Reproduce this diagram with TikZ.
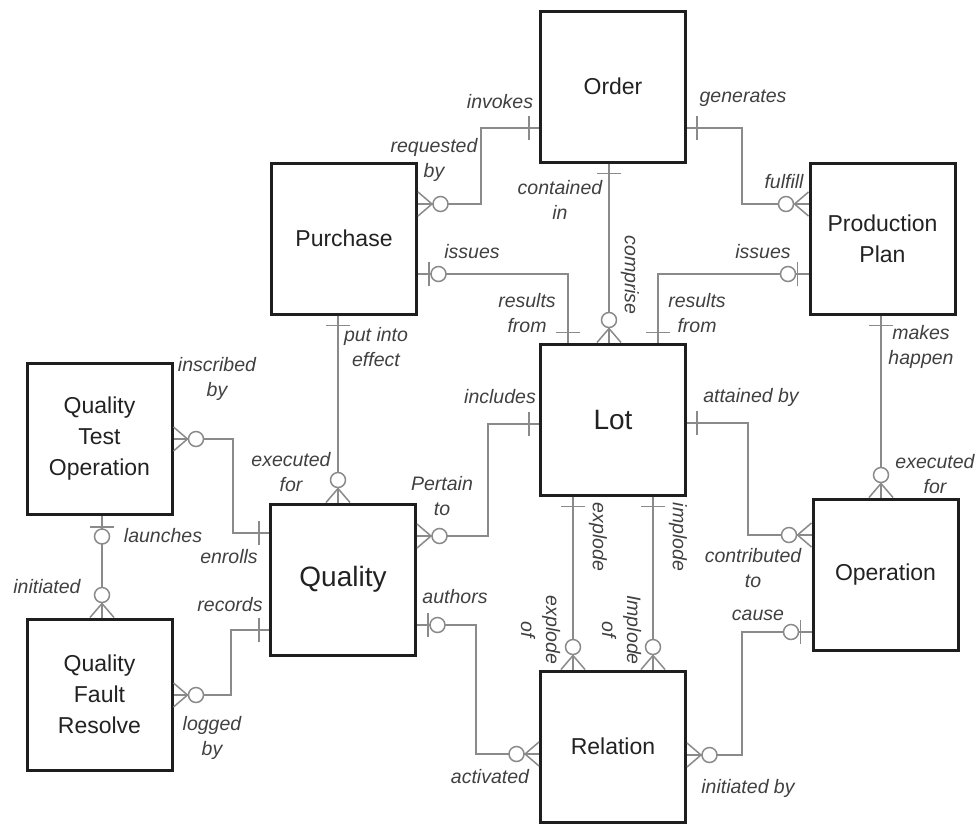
\documentclass[tikz,border=0pt]{standalone}
\usepackage{fontspec}
\setmainfont{Liberation Sans}
\definecolor{boxc}{HTML}{1E1E1E}
\definecolor{boxtext}{HTML}{222222}
\definecolor{linec}{HTML}{8A8A8A}
\definecolor{lblc}{HTML}{404040}
\tikzset{
  box/.style={draw=boxc, line width=3pt, minimum width=145pt, minimum height=151pt,
    inner sep=0pt, align=center, font=\fontsize{23}{31}\selectfont, text=boxtext},
  bigbox/.style={box, font=\fontsize{28}{34}\selectfont},
  conn/.style={draw=linec, line width=1.5pt},
  lbl/.style={font=\itshape\fontsize{19.5}{25}\selectfont, text=lblc, inner sep=0pt, align=center},
  crowzero/.pic={
    \draw[conn] (0,-12) -- (14,0) -- (0,12);
    \draw[conn, fill=white] (22.5,0) circle (7.5pt);
  },
  onebar/.pic={
    \draw[conn] (10,-12) -- (10,12);
  },
  zeroone/.pic={
    \draw[conn] (11,-12) -- (11,12);
    \draw[conn, fill=white] (20.5,0) circle (7.5pt);
  }
}
\begin{document}
\begin{tikzpicture}[x=1pt, y=-1pt]
\useasboundingbox (0,0) rectangle (980,823);

% boxes
\node[box] (order) at (613,86.5) {Order};
\node[box] (purchase) at (344,238.5) {Purchase};
\node[box] (pp) at (882.5,238.5) {Production\\Plan};
\node[bigbox] (lot) at (613,419.5) {Lot};
\node[box] (qto) at (99.5,439) {Quality\\Test\\Operation};
\node[bigbox] (quality) at (343,579.5) {Quality};
\node[box] (operation) at (885.5,574.5) {Operation};
\node[box] (qfr) at (99.5,694.5) {Quality\\Fault\\Resolve};
\node[box] (relation) at (613,746.5) {Relation};

% connectors
\draw[conn] (order.west |- 0,128) -| (481,204) -- (purchase.east |- 0,204);
\draw[conn] (order.east |- 0,128) -| (742,204) -- (pp.west |- 0,204);
\draw[conn] (order.south -| 609,0) -- (lot.north -| 609,0);
\draw[conn] (purchase.east |- 0,274) -| (lot.north -| 568,0);
\draw[conn] (pp.west |- 0,274) -| (lot.north -| 658,0);
\draw[conn] (purchase.south -| 338,0) -- (quality.north -| 338,0);
\draw[conn] (lot.west |- 0,424) -| (488,536) -- (quality.east |- 0,536);
\draw[conn] (lot.east |- 0,423) -| (748,535) -- (operation.west |- 0,535);
\draw[conn] (pp.south -| 881,0) -- (operation.north -| 881,0);
\draw[conn] (qto.east |- 0,439) -| (233,533) -- (quality.west |- 0,533);
\draw[conn] (qto.south -| 102,0) -- (qfr.north -| 102,0);
\draw[conn] (quality.west |- 0,630) -| (231,695) -- (qfr.east |- 0,695);
\draw[conn] (quality.east |- 0,625) -| (476,754) -- (relation.west |- 0,754);
\draw[conn] (lot.south -| 573,0) -- (relation.north -| 573,0);
\draw[conn] (lot.south -| 653,0) -- (relation.north -| 653,0);
\draw[conn] (operation.west |- 0,632) -| (742,755) -- (relation.east |- 0,755);

% end symbols
\pic[rotate=180] at (order.west |- 0,128) {onebar};
\pic at (purchase.east |- 0,204) {crowzero};
\pic at (order.east |- 0,128) {onebar};
\pic[rotate=180] at (pp.west |- 0,204) {crowzero};
\pic[rotate=-90] at (order.south -| 609,0) {onebar};
\pic[rotate=90] at (lot.north -| 609,0) {crowzero};
\pic at (purchase.east |- 0,274) {zeroone};
\pic[rotate=90] at (lot.north -| 568,0) {onebar};
\pic[rotate=180] at (pp.west |- 0,274) {zeroone};
\pic[rotate=90] at (lot.north -| 658,0) {onebar};
\pic[rotate=-90] at (purchase.south -| 338,0) {onebar};
\pic[rotate=90] at (quality.north -| 338,0) {crowzero};
\pic[rotate=180] at (lot.west |- 0,424) {onebar};
\pic at (quality.east |- 0,536) {crowzero};
\pic at (lot.east |- 0,423) {onebar};
\pic[rotate=180] at (operation.west |- 0,535) {crowzero};
\pic[rotate=-90] at (pp.south -| 881,0) {onebar};
\pic[rotate=90] at (operation.north -| 881,0) {crowzero};
\pic at (qto.east |- 0,439) {crowzero};
\pic[rotate=180] at (quality.west |- 0,533) {onebar};
\pic[rotate=-90] at (qto.south -| 102,0) {zeroone};
\pic[rotate=90] at (qfr.north -| 102,0) {crowzero};
\pic[rotate=180] at (quality.west |- 0,630) {onebar};
\pic at (qfr.east |- 0,695) {crowzero};
\pic at (quality.east |- 0,625) {zeroone};
\pic[rotate=180] at (relation.west |- 0,754) {crowzero};
\pic[rotate=-90] at (lot.south -| 573,0) {onebar};
\pic[rotate=90] at (relation.north -| 573,0) {crowzero};
\pic[rotate=-90] at (lot.south -| 653,0) {onebar};
\pic[rotate=90] at (relation.north -| 653,0) {crowzero};
\pic[rotate=180] at (operation.west |- 0,632) {zeroone};
\pic at (relation.east |- 0,755) {crowzero};

% labels
\node[lbl] (l1) at (500,102) {invokes};
\node[lbl] (l2) at (434,159.5) {requested\\by};
\node[lbl] (l3) at (743,98) {generates};
\node[lbl] (l4) at (784,182) {fulfill};
\node[lbl] (l5) at (560,199.5) {contained\\in};
\node[lbl, rotate=-90] (l6) at (630,275) {comprise};
\node[lbl] (l7) at (472,252) {issues};
\node[lbl] (l8) at (527,313) {results\\from};
\node[lbl] (l9) at (763,252) {issues};
\node[lbl] (l10) at (697,313) {results\\from};
\node[lbl] (l11) at (376,347.5) {put into\\effect};
\node[lbl] (l12) at (291,472.5) {executed\\for};
\node[lbl] (l13) at (500,397) {includes};
\node[lbl] (l14) at (442,496.5) {Pertain\\to};
\node[lbl] (l15) at (751,397) {attained by};
\node[lbl] (l16) at (753,568.5) {contributed\\to};
\node[lbl] (l17) at (921,347) {makes\\happen};
\node[lbl] (l18) at (935,474.5) {executed\\for};
\node[lbl] (l19) at (217,378.5) {inscribed\\by};
\node[lbl] (l20) at (229,557) {enrolls};
\node[lbl] (l21) at (163,536) {launches};
\node[lbl] (l22) at (47,587) {initiated};
\node[lbl] (l23) at (230,605) {records};
\node[lbl] (l24) at (212,737.5) {logged\\by};
\node[lbl] (l25) at (455,597) {authors};
\node[lbl] (l26) at (490,777) {activated};
\node[lbl, rotate=-90] (l27) at (598,537) {explode};
\node[lbl, rotate=-90] (l28) at (678,537) {implode};
\node[lbl, rotate=-90] (l29) at (540.5,630) {explode\\of};
\node[lbl, rotate=-90] (l30) at (621.5,630) {Implode\\of};
\node[lbl] (l31) at (758,615) {cause};
\node[lbl] (l32) at (748,788) {initiated by};
\end{tikzpicture}
\end{document}
